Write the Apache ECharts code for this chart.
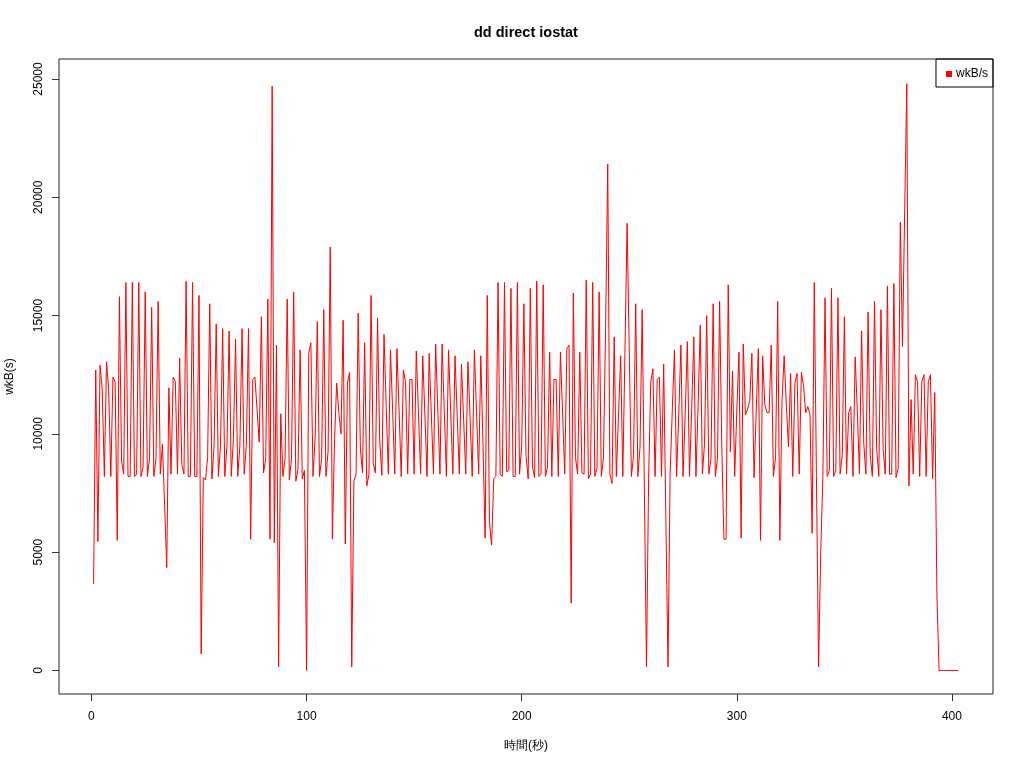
<!DOCTYPE html>
<html>
<head>
<meta charset="utf-8">
<script src="https://cdn.jsdelivr.net/npm/echarts@6/dist/echarts.min.js"></script>
<style>html,body{margin:0;padding:0;background:#fff}#c{width:1024px;height:768px}</style>
</head>
<body>
<div id="c"></div>
<script>
const chartTitle = "dd direct iostat";
const seriesName = "wkB/s";
const xName = "時間(秒)";
const yName = "wkB(s)";
const startSecond = 1;
const xTicks = [0, 100, 200, 300, 400];
const yTicks = [0, 5000, 10000, 15000, 20000, 25000];
const wkBs = [
3650,12700,5450,12900,11900,8200,13050,11900,8200,12400,
12200,5500,15800,8850,8300,16400,8200,8200,16400,8200,
8300,16400,8200,8600,16000,8200,8950,15350,8200,8950,
15600,8300,9550,7000,4350,11950,8300,12400,12200,8300,
13200,8700,8300,16450,8200,8200,16400,8200,8200,15850,
700,8150,8050,9000,15500,8100,9500,14650,8200,9500,
14450,8200,9500,14350,8200,9800,14000,8200,9500,14450,
8300,9500,14450,5550,12300,12400,11000,9650,14950,8350,
8950,15700,5550,24700,5400,13750,150,10850,8200,8950,
15700,8050,8950,16000,8000,8500,13550,8100,8450,0,
13400,13850,8200,9900,14750,8200,8950,15250,8200,9250,
17900,5550,9750,12150,10900,10000,14800,5350,12150,12600,
150,8000,8300,15100,9400,8350,13850,7800,8300,15850,
8750,8350,14900,9750,8250,14200,11200,8300,13550,11000,
8300,13600,11000,8200,12700,12200,8300,12300,12300,8300,
13500,10900,8300,13300,10800,8200,13400,10800,8300,13800,
11000,8300,13800,11000,8200,13550,10900,8300,13300,10800,
8300,12950,10600,8300,13050,10700,8200,13550,10900,8300,
13300,9500,5600,15850,6300,5300,8100,8200,16400,8300,
8200,16400,8400,8450,16150,8200,8200,16400,8300,9500,
15500,9100,8100,16150,8600,8150,16450,8200,8300,16300,
8200,8600,13450,8200,12300,12300,8200,13450,10900,8300,
13600,13750,2850,15950,9000,8300,13450,8350,8300,16500,
8100,8300,16400,8200,8550,16000,8200,8950,14500,21400,
8300,7900,14100,8200,10800,13300,8200,13500,18900,13500,
8200,9100,15500,8200,9450,15250,7800,150,8100,12200,
12750,8200,12300,12400,8200,12950,6500,150,8300,11000,
13550,8200,10800,13750,8200,10800,13900,8200,11000,14100,
8200,11200,14600,8300,9600,15000,8300,8950,15500,8200,
8950,15600,9500,5550,5550,16300,9250,12650,8200,11000,
13450,5600,13800,10800,11050,11400,13400,8150,10900,13600,
5500,13300,11250,10900,10900,13750,8200,9000,15600,5500,
11400,13300,11250,9450,12550,8200,12150,12550,8300,12600,
12050,10900,11150,10800,5800,16400,8200,150,5000,8200,
15750,8200,8450,16150,8200,8450,15750,8300,9100,14950,
8300,10900,11150,8200,13250,11000,8300,14350,9600,8300,
15150,9100,8200,15600,9350,8200,15250,9350,8300,16250,
8300,8300,16350,8150,8550,18950,13700,19300,24800,7800,
11450,8300,12500,12200,8200,12200,12500,8200,12200,12500,
8100,11750,3200,0,0,0,0,0,0,0,
0,0,0
];
const points = wkBs.map((v, i) => [startSecond + i, v]);
const font = "'Liberation Sans', Arial, sans-serif";

const chart = echarts.init(document.getElementById('c'), null, {renderer: 'canvas'});
chart.setOption({
  animation: false,
  backgroundColor: '#ffffff',
  title: {
    text: chartTitle, left: 469, top: 20,
    textStyle: {fontFamily: font, fontSize: 14.5, fontWeight: 'bold', color: '#000'}
  },
  legend: {
    right: 31, top: 59, orient: 'vertical',
    data: [{name: seriesName, icon: 'rect'}],
    itemWidth: 6, itemHeight: 6, itemGap: 0,
    borderColor: '#000', borderWidth: 1, borderRadius: 0,
    padding: [9, 5, 7, 10],
    textStyle: {fontFamily: font, fontSize: 12, color: '#000', padding: [0, 0, 0, -1]}
  },
  grid: {left: 59, right: 31, top: 59, bottom: 74, show: true, borderColor: '#222', borderWidth: 1,
         backgroundColor: 'transparent', containLabel: false, outerBoundsMode: 'none'},
  xAxis: {
    type: 'value', min: -15.08, max: 419.08,
    name: xName, nameLocation: 'middle', nameGap: 46,
    nameTextStyle: {fontFamily: font, fontSize: 12, color: '#000'},
    axisLine: {show: false, onZero: false},
    axisTick: {show: true, customValues: xTicks, length: 7, lineStyle: {color: '#333'}},
    axisLabel: {customValues: xTicks, margin: 17, fontFamily: font, fontSize: 12, color: '#000',
                formatter: v => String(v)},
    splitLine: {show: false}
  },
  yAxis: {
    type: 'value', min: -994, max: 25844,
    name: yName, nameLocation: 'middle', nameGap: 43, nameRotate: 90,
    nameTextStyle: {fontFamily: font, fontSize: 12, color: '#000'},
    axisLine: {show: false, onZero: false},
    axisTick: {show: true, customValues: yTicks, length: 7, lineStyle: {color: '#333'}},
    axisLabel: {customValues: yTicks, rotate: 90, margin: 14, fontFamily: font, fontSize: 12, color: '#000',
                formatter: v => String(v)},
    splitLine: {show: false}
  },
  series: [{
    name: seriesName, type: 'line', data: points,
    showSymbol: false, symbol: 'none',
    itemStyle: {color: '#ff0000'},
    lineStyle: {color: '#ff0000', width: 1}
  }]
});
</script>
</body>
</html>
